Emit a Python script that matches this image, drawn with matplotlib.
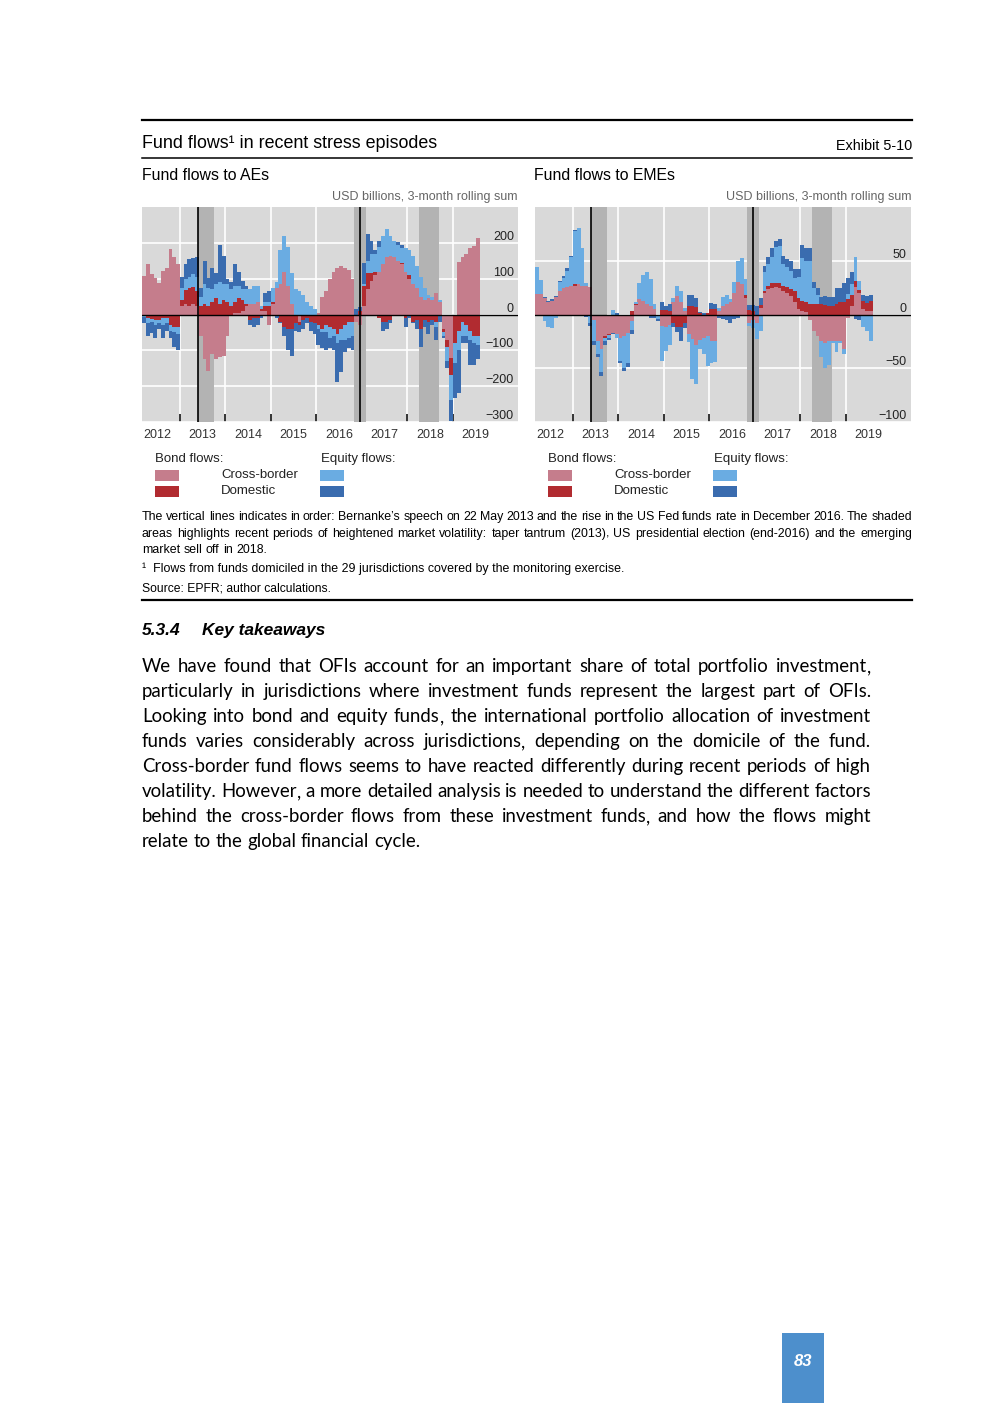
import numpy as np
import pandas as pd
import matplotlib
matplotlib.use('Agg')  # no display
import matplotlib.pyplot as plt
from matplotlib.patches import Rectangle
from matplotlib.lines import Line2D

W, H = 992, 1403
FONT = 'Liberation Sans'
BODY_FONT = 'Lato'

# monthly observations, Mar 2012 - Jul 2019 (USD bn, 3-month rolling sum)
months = pd.period_range('2012-03', '2019-07', freq='M')

ae_bond_cb = [107, 142, 112, 103, 87, 122, 130, 183, 160, 140,
              25, 28, 25, 28, 25, -60, -125, -158, -110, -125,
              -120, -115, -60, -5, 5, 5, 10, 25, 30, 30,
              35, 10, 10, -28, 30, 75, 85, 120, 80, 30,
              0, -20, 0, 0, 0, 0, 5, 50, 65, 100,
              120, 130, 135, 130, 125, 100, -20, -30, 24, 70,
              95, 110, 120, 140, 160, 165, 160, 150, 140, 120,
              100, 85, 75, 50, 40, 45, 40, 60, 35, -40,
              -70, -121, 0, 146, 160, 170, 185, 192, 215]
ae_bond_dom = [0, -10, -12, -15, -15, -10, -10, -30, -35, -35,
               15, 40, 50, 50, 40, 25, 30, 25, 35, 45,
               30, 40, 35, 25, 30, 40, 30, 5, -15, -10,
               -10, 5, 15, 25, 5, -5, -20, -35, -40, -40,
               -25, -10, -15, -10, -20, -25, -30, -40, -30, -35,
               -40, -55, -40, -30, -20, -20, 0, 10, 56, 45,
               20, 10, -10, -20, -20, -15, -5, -5, 5, -10,
               10, -20, -15, -40, -15, -20, -15, -20, -5, -10,
               -20, -47, -80, -45, -20, -30, -45, -60, -60]
ae_eq_cb = [-8, -15, -10, -15, -10, -20, -15, -15, -15, -20,
            35, 32, 30, 35, 40, 25, 54, 50, 35, 40,
            60, 45, 50, 45, 45, 35, 30, 40, 40, 50,
            45, 10, 10, 10, 40, 15, 95, 100, 110, 85,
            70, 65, 55, 35, 25, 15, -10, -10, -20, -30,
            -20, -25, -30, -40, -45, -40, 0, 0, 5, 35,
            55, 50, 70, 80, 80, 55, 45, 45, 40, 65,
            70, 80, 60, 55, 35, 10, 10, -15, 5, -10,
            -40, -70, -55, -55, -40, -30, -25, -20, -25]
ae_eq_dom = [-15, -35, -30, -35, -15, -35, -20, -20, -40, -45,
             30, 40, 50, 45, 55, 25, 65, 27, 60, 30,
             105, 80, 15, 20, 60, 40, 25, 10, -15, -25,
             -20, -10, 25, 30, -5, -5, -5, -25, -60, -75,
             -20, -20, -25, -15, -25, -30, -45, -45, -50, -30,
             -40, -110, -90, -35, -30, -40, 15, 12, 60, 75,
             36, 10, 15, -25, -20, -10, 0, 8, 10, -25,
             -10, -5, -25, -50, -20, -35, -15, -35, -15, -5,
             -20, -60, -100, -120, -20, -20, -70, -60, -40]

eme_bond_cb = [19, 19, 15, 12, 13, 16, 22, 25, 26, 27,
               27, 28, 27, 27, 26, -5, -25, -32, -20, -18,
               -17, -18, -22, -20, -17, -6, 9, 14, 13, 10,
               8, 5, 0, -11, -12, -10, 12, 17, 12, 3,
               -18, -23, -28, -24, -22, -20, -25, -25, 3, 8,
               10, 12, 20, 30, 28, 15, -8, -5, -8, 6,
               20, 24, 25, 26, 25, 22, 20, 17, 12, 5,
               3, 2, -5, -15, -20, -25, -27, -25, -25, -25,
               -25, -32, -3, 8, 26, 20, 5, 3, 3]
eme_bond_dom = [0, 0, 0, 0, 0, 0, 0, 0, 0, 0,
                1, 0, 0, 0, 0, 0, 0, 0, -2, -1,
                0, 0, 0, 0, 0, 3, 1, 0, 0, 0,
                0, 0, 0, 4, 4, 3, -8, -12, -12, -8,
                8, 8, 7, 1, 0, 1, 5, 5, 0, 0,
                0, 0, 0, 0, 0, 3, 4, 3, 0, 3,
                2, 3, 4, 3, 4, 5, 6, 7, 10, 10,
                10, 10, 10, 10, 10, 10, 9, 8, 8, 10,
                12, 12, 14, 10, 5, 3, 8, 8, 10]
eme_eq_cb = [25, 13, -6, -12, -13, -3, 8, 9, 15, 27,
             50, 53, 35, 2, -8, -20, -12, -22, -3, -3,
             4, -4, -21, -30, -28, -8, 2, 15, 24, 30,
             25, 5, -4, -32, -22, -18, 3, 10, 10, 3,
             -8, -37, -37, -8, -15, -28, -20, -19, 3, 8,
             8, 2, 10, 20, 25, 15, -3, -8, -15, -15,
             18, 20, 25, 34, 35, 20, 18, 17, 12, 20,
             40, 38, 40, 15, 8, -15, -23, -22, -2, -10,
             -2, -5, 5, 10, 23, 8, -12, -15, -25]
eme_eq_dom = [0, 0, 1, 1, 1, 1, 1, 2, 2, 1,
              1, 0, -1, -2, -3, -3, -3, -3, -3, -2,
              -1, 1, -2, -3, -4, -4, 0, 0, 0, 0,
              -3, -3, -2, 8, 4, 7, -4, -4, -13, -5,
              10, 10, 8, 1, 1, 0, 6, 5, -3, -4,
              -5, -8, -4, -3, 0, 0, 5, 6, 8, 6,
              5, 7, 8, 6, 6, 8, 8, 9, 8, 7,
              12, 12, 12, 5, 7, 6, 8, 8, 8, 15,
              13, 17, 15, 12, -4, -5, 5, 6, 5]

year_labels = ['2012', '2013', '2014', '2015', '2016', '2017', '2018', '2019']
ae_ticks = [-300, -200, -100, 0, 100, 200]
eme_ticks = [-100, -50, 0, 50]
# Bernanke speech 22 May 2013, Fed hike Dec 2016
event_lines = [2013.39, 2016.96]
# taper tantrum, US election, EM sell-off 2018
shade_periods = [(2013.39, 2013.76), (2016.82, 2017.10), (2018.26, 2018.69)]

C_BOND_CB = '#c57d8c'
C_BOND_DOM = '#b12b30'
C_EQ_CB = '#6aace2'
C_EQ_DOM = '#3a6caf'
COLORS = [C_BOND_CB, C_BOND_DOM, C_EQ_CB, C_EQ_DOM]


def fx(x):
    return x / W


def fy(y):
    return 1 - y / H


fig = plt.figure(figsize=(W / 100, H / 100), dpi=100)
fig.patch.set_facecolor('white')


def draw_panel(rect, series, ylim, ticks):
    ax = fig.add_axes(rect)
    x = np.array([p.year + (p.month - 1) / 12 for p in months])
    pos = np.zeros(len(x))
    neg = np.zeros(len(x))
    for vals, col in zip(series, COLORS):
        v = np.asarray(vals, dtype=float)
        bottom = np.where(v >= 0, pos, neg)
        ax.bar(x, v, width=1 / 12 * 1.04, bottom=bottom, align='edge',
               color=col, linewidth=0, zorder=2)
        pos = pos + np.clip(v, 0, None)
        neg = neg + np.clip(v, None, 0)

    ax.set_facecolor('#d9d9d9')
    for s in ax.spines.values():
        s.set_visible(False)
    for a, b in shade_periods:
        ax.axvspan(a, b, color='#b3b3b3', lw=0, zorder=1)
    for xv in event_lines:
        ax.axvline(xv, color='black', lw=1.2, zorder=3)
    ax.axhline(0, color='black', lw=1.0, zorder=3)

    ax.set_xlim(2012.167, 2020.43)
    ax.set_ylim(*ylim)
    ax.set_xticks(range(2013, 2020))
    ax.set_xticklabels([])
    ax.set_xticks(np.arange(2012.5, 2020), minor=True)
    ax.set_xticklabels(year_labels, minor=True, fontsize=9, family=FONT,
                       color='#333333')
    ax.tick_params(axis='x', which='major', direction='in', length=6,
                   width=1.1, color='black')
    ax.tick_params(axis='x', which='minor', length=0, pad=5)

    ax.yaxis.tick_right()
    ax.set_yticks(ticks)
    ax.set_yticklabels([str(t).replace('-', '\u2212') for t in ticks],
                       ha='right', va='bottom', fontsize=9, family=FONT,
                       color='#222222')
    ax.tick_params(axis='y', length=0, pad=-3)
    ax.grid(True, which='major', color='white', lw=1.2)
    ax.set_axisbelow(True)
    return ax


ax_top, ax_bot = 207.3, 421.7
draw_panel([fx(142), fy(ax_bot), (518 - 142) / W, (ax_bot - ax_top) / H],
           [ae_bond_cb, ae_bond_dom, ae_eq_cb, ae_eq_dom], (-300, 300), ae_ticks)
draw_panel([fx(535), fy(ax_bot), (911 - 535) / W, (ax_bot - ax_top) / H],
           [eme_bond_cb, eme_bond_dom, eme_eq_cb, eme_eq_dom], (-100, 100), eme_ticks)


def hline(y, x0=142, x1=912, lw=1.5):
    fig.add_artist(Line2D([fx(x0), fx(x1)], [fy(y), fy(y)], color='black', lw=lw))


def txt(x, y, s, **kw):
    kw.setdefault('family', FONT)
    kw.setdefault('va', 'center')
    fig.text(fx(x), fy(y), s, **kw)


def box(x0, y0, x1, y1, color):
    fig.add_artist(Rectangle((fx(x0), fy(y1)), (x1 - x0) / W, (y1 - y0) / H,
                             transform=fig.transFigure, facecolor=color, lw=0))


# header
hline(120, lw=1.6)
txt(142, 144, 'Fund flows\u00b9 in recent stress episodes', fontsize=12.9)
txt(912, 146, 'Exhibit 5-10', fontsize=10.4, ha='right')
hline(158, lw=1.1)
txt(142, 175, 'Fund flows to AEs', fontsize=11.4)
txt(534, 175, 'Fund flows to EMEs', fontsize=11.4)
txt(518, 197, 'USD billions, 3-month rolling sum', fontsize=9, ha='right', color='#666666')
txt(911, 197, 'USD billions, 3-month rolling sum', fontsize=9, ha='right', color='#666666')

# legends
for dx in (0, 393):
    txt(155 + dx, 459, 'Bond flows:', fontsize=9.5, color='#222222')
    txt(321 + dx, 459, 'Equity flows:', fontsize=9.5, color='#222222')
    box(155 + dx, 470, 179 + dx, 481, C_BOND_CB)
    box(155 + dx, 486, 179 + dx, 497, C_BOND_DOM)
    box(320 + dx, 470, 344 + dx, 481, C_EQ_CB)
    box(320 + dx, 486, 344 + dx, 497, C_EQ_DOM)
    txt(221 + dx, 475, 'Cross-border', fontsize=9.5, color='#222222')
    txt(221 + dx, 491, 'Domestic', fontsize=9.5, color='#222222')


def justify(lines, x0, x1, y0, step, **kw):
    # y0 is the baseline of the first line, in page pixels
    kw.setdefault('family', FONT)
    r = fig.canvas.get_renderer()
    p1 = fig.text(0, 0, 'a a', **kw)
    p2 = fig.text(0, 0, 'aa', **kw)
    space = p1.get_window_extent(r).width - p2.get_window_extent(r).width
    p1.remove()
    p2.remove()
    for i, line in enumerate(lines):
        words = line.split()
        y = fy(y0 + i * step)
        groups = []
        for w in words:
            # a trailing comma on its own keeps the word on the baseline
            parts = [w[:-1], ','] if w.endswith(',') and len(w) > 1 else [w]
            arts = [fig.text(0, y, p, ha='left', va='baseline', **kw) for p in parts]
            ws = [a.get_window_extent(r).width for a in arts]
            groups.append((arts, ws))
        total = sum(sum(ws) for _, ws in groups)
        if i == len(lines) - 1 or len(words) == 1:
            gap = space
        else:
            gap = (x1 - x0 - total) / (len(words) - 1)
        x = x0
        for arts, ws in groups:
            for a, w in zip(arts, ws):
                a.set_x(fx(x))
                x += w
            x += gap


note = [
    'The vertical lines indicates in order: Bernanke\u2019s speech on 22 May 2013 and the rise in the US Fed funds rate in December 2016.  The shaded',
    'areas highlights recent periods of heightened market volatility: taper tantrum (2013), US presidential election (end-2016) and the emerging',
    'market sell off in 2018.',
]
justify(note, 142, 912, 520, 16.5, fontsize=8.9, color='black')
txt(142, 569, '\u00b9  Flows from funds domiciled in the 29 jurisdictions covered by the monitoring exercise.',
    fontsize=8.9)
txt(142, 589, 'Source: EPFR; author calculations.', fontsize=8.7)
hline(600, lw=1.6)

# section text
txt(142, 631, '5.3.4', fontsize=12.5, weight='bold', style='italic')
txt(202, 631, 'Key takeaways', fontsize=12.5, weight='bold', style='italic')

body = [
    'We have found that OFIs account for an important share of total portfolio investment,',
    'particularly in jurisdictions where investment funds represent the largest part of OFIs.',
    'Looking into bond and equity funds, the international portfolio allocation of investment',
    'funds varies considerably across jurisdictions, depending on the domicile of the fund.',
    'Cross-border fund flows seems to have reacted differently during recent periods of high',
    'volatility. However, a more detailed analysis is needed to understand the different factors',
    'behind the cross-border flows from these investment funds, and how the flows might',
    'relate to the global financial cycle.',
]
justify(body, 142, 871, 672, 25, fontsize=13.4, family=BODY_FONT, color='black')

# page number tab
box(782, 1333, 824, 1403, '#4d8fcc')
txt(803, 1362, '83', fontsize=12, weight='bold', style='italic', color='white', ha='center')

fig.savefig('out.png', dpi=100)
